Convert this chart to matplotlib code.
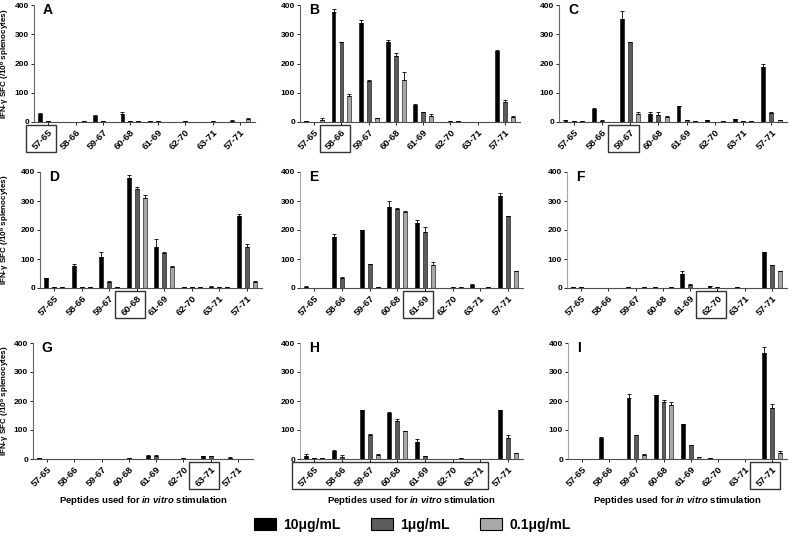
import numpy as np
import matplotlib.pyplot as plt
from matplotlib.patches import Rectangle, Patch
from matplotlib import transforms

plt.rcParams['font.family'] = ['Liberation Sans', 'DejaVu Sans']
plt.rcParams['font.weight'] = 'bold'
plt.rcParams['mathtext.fontset'] = 'custom'
plt.rcParams['mathtext.rm'] = 'Liberation Sans:bold'
plt.rcParams['mathtext.it'] = 'Liberation Sans:bold:italic'
plt.rcParams['mathtext.bf'] = 'Liberation Sans:bold'

peptides = ['57-65', '58-66', '59-67', '60-68', '61-69', '62-70', '63-71', '57-71']
conc = ['10\u03bcg/mL', '1\u03bcg/mL', '0.1\u03bcg/mL']

# values per panel: rows = 10, 1, 0.1 ug/mL
vals_A = [[29, 0, 20, 29, 2, 0, 0, 5],
          [2, 1, 2, 4, 3, 2, 2, 0],
          [1, 3, 0, 2, 1, 0, 0, 10]]
err_A = [[3, 0, 4, 4, 0, 0, 0, 1],
         [0, 0, 0, 1, 1, 0, 1, 0],
         [0, 0, 0, 0, 0, 0, 0, 2]]

vals_B = [[2, 377, 340, 272, 59, 0, 0, 243],
          [0, 274, 140, 226, 35, 2, 0, 70],
          [8, 88, 14, 145, 20, 3, 0, 17]]
err_B = [[0, 8, 9, 9, 2, 0, 0, 2],
         [0, 0, 3, 9, 0, 0, 0, 6],
         [5, 7, 0, 27, 8, 0, 0, 2]]

vals_C = [[7, 45, 351, 28, 54, 7, 9, 187],
          [2, 5, 273, 24, 7, 0, 4, 30],
          [2, 1, 28, 18, 5, 5, 2, 7]]
err_C = [[1, 2, 27, 6, 1, 1, 1, 10],
         [0, 1, 2, 11, 1, 0, 0, 3],
         [0, 0, 7, 1, 0, 0, 0, 0]]

vals_D = [[34, 77, 106, 381, 141, 2, 5, 249],
          [4, 2, 19, 343, 119, 3, 2, 140],
          [3, 2, 2, 311, 72, 2, 3, 21]]
err_D = [[1, 5, 17, 10, 29, 0, 1, 6],
         [0, 0, 5, 7, 6, 0, 0, 13],
         [0, 0, 0, 9, 3, 0, 0, 3]]

vals_E = [[5, 177, 200, 280, 225, 0, 12, 317],
          [1, 35, 82, 273, 194, 2, 1, 249],
          [1, 0, 4, 261, 81, 2, 2, 58]]
err_E = [[3, 10, 1, 20, 11, 0, 2, 10],
         [0, 2, 2, 4, 16, 0, 0, 1],
         [0, 0, 1, 6, 7, 0, 0, 1]]

vals_F = [[3, 1, 2, 2, 50, 6, 4, 124],
          [2, 0, 0, 1, 11, 2, 0, 80],
          [1, 1, 4, 3, 0, 0, 0, 58]]
err_F = [[0, 0, 0, 0, 8, 0, 0, 1],
         [0, 0, 0, 0, 2, 0, 0, 1],
         [0, 0, 0, 0, 0, 0, 0, 1]]

vals_G = [[3, 0, 0, 1, 12, 0, 10, 5],
          [1, 0, 1, 2, 11, 2, 9, 1],
          [0, 0, 0, 1, 1, 0, 1, 1]]
err_G = [[0, 0, 0, 0, 3, 0, 1, 3],
         [0, 0, 0, 0, 4, 0, 3, 0],
         [0, 0, 0, 0, 0, 0, 0, 0]]

vals_H = [[12, 29, 169, 158, 57, 0, 0, 169],
          [2, 8, 83, 131, 10, 0, 1, 72],
          [3, 0, 15, 96, 0, 3, 0, 20]]
err_H = [[4, 1, 1, 4, 11, 0, 0, 1],
         [0, 5, 2, 6, 1, 0, 0, 10],
         [0, 0, 2, 2, 0, 0, 0, 1]]

vals_I = [[0, 72, 209, 221, 119, 2, 0, 367],
          [0, 0, 82, 197, 48, 0, 0, 175],
          [0, 0, 15, 185, 7, 0, 0, 19]]
err_I = [[0, 3, 16, 1, 1, 0, 0, 18],
         [0, 0, 2, 8, 2, 0, 0, 13],
         [0, 0, 2, 10, 0, 0, 0, 8]]

letters = ['A', 'B', 'C', 'D', 'E', 'F', 'G', 'H', 'I']
all_vals = [vals_A, vals_B, vals_C, vals_D, vals_E, vals_F, vals_G, vals_H, vals_I]
all_err = [err_A, err_B, err_C, err_D, err_E, err_F, err_G, err_H, err_I]
# boxed peptide range (first, last index) for each panel
boxed = [(0, 0), (1, 1), (2, 2), (3, 3), (4, 4), (5, 5), (6, 6), (0, 6), (7, 7)]

colors = ['#000000', '#5c5c5c', '#a8a8a8']

# axes boxes in pixels: left, right, top, bottom
pix = [(34, 255, 5, 122), (300, 520, 5, 122), (559, 787, 5, 122),
       (40, 262, 172, 288), (300, 523, 172, 288), (567, 787, 172, 288),
       (33, 253, 343, 459), (300, 523, 343, 459), (568, 787, 343, 459)]
light_spine = {4, 5, 7, 8}

W, H = 789, 541
fig = plt.figure(figsize=(W / 100, H / 100), dpi=100)

x = np.arange(len(peptides))
off = 0.29
bw = 0.14

for k in range(9):
    l, r, t, b = pix[k]
    ax = fig.add_axes([l / W, 1 - b / H, (r - l) / W, (b - t) / H])
    vals = all_vals[k]
    errs = all_err[k]
    for j in range(3):
        v = np.array(vals[j])
        e = np.array(errs[j])
        ax.bar(x + (j - 1) * off, v, bw, color=colors[j], edgecolor='black', linewidth=0.4,
               yerr=[np.zeros_like(e), e], error_kw=dict(ecolor='black', elinewidth=0.6,
                                                          capsize=1.3, capthick=0.6))
    ax.set_xlim(-0.52, 7.55)
    ax.set_ylim(0, 400)
    ax.set_yticks([0, 100, 200, 300, 400])
    ax.set_xticks(x)
    ax.set_xticklabels(peptides, rotation=45, ha='right', va='top', rotation_mode='anchor',
                       fontsize=6.8, fontweight='bold')
    ax.tick_params(axis='y', labelsize=6, length=2.5, width=0.6, pad=1)
    ax.tick_params(axis='x', length=2, width=0.6, pad=2)
    for lab in ax.get_yticklabels():
        lab.set_fontweight('bold')
    ax.spines['top'].set_visible(False)
    ax.spines['right'].set_visible(False)
    ax.spines['left'].set_linewidth(0.8)
    ax.spines['bottom'].set_linewidth(0.8)
    ax.spines['left'].set_color('0.65' if k in light_spine else '0.4')
    ax.spines['bottom'].set_color('0.3')

    ax.text(0.04, 1.02, letters[k], transform=ax.transAxes, fontsize=10,
            fontweight='bold', va='top', ha='left')

    tr = transforms.blended_transform_factory(ax.transData, ax.transAxes)
    i0, i1 = boxed[k]
    ax.add_patch(Rectangle((i0 - 0.8, -0.255), (i1 - i0) + 1.1, 0.23, transform=tr,
                           fill=False, edgecolor='0.2', linewidth=1.0, clip_on=False))

    if k % 3 == 0:
        ax.set_ylabel('IFN-\u03b3 SFC (/10$^6$ splenocytes)', fontsize=5.8,
                      fontweight='bold')
        ax.yaxis.set_label_coords((12 - l) / (r - l), 0.5)
    if k >= 6:
        ax.set_xlabel(r'Peptides used for $\mathit{in\ vitro}$ stimulation', fontsize=6.8,
                      fontweight='bold', labelpad=4)

handles = [Patch(facecolor=colors[j], edgecolor='black', linewidth=0.8) for j in range(3)]
fig.legend(handles, conc, loc='center', bbox_to_anchor=(412 / W, 1 - 525 / H), ncol=3,
           frameon=False, handlelength=1.6, handleheight=0.9,
           handletextpad=0.5, columnspacing=2.2, prop={'weight': 'bold', 'size': 10})

fig.savefig('out.png', dpi=100)
